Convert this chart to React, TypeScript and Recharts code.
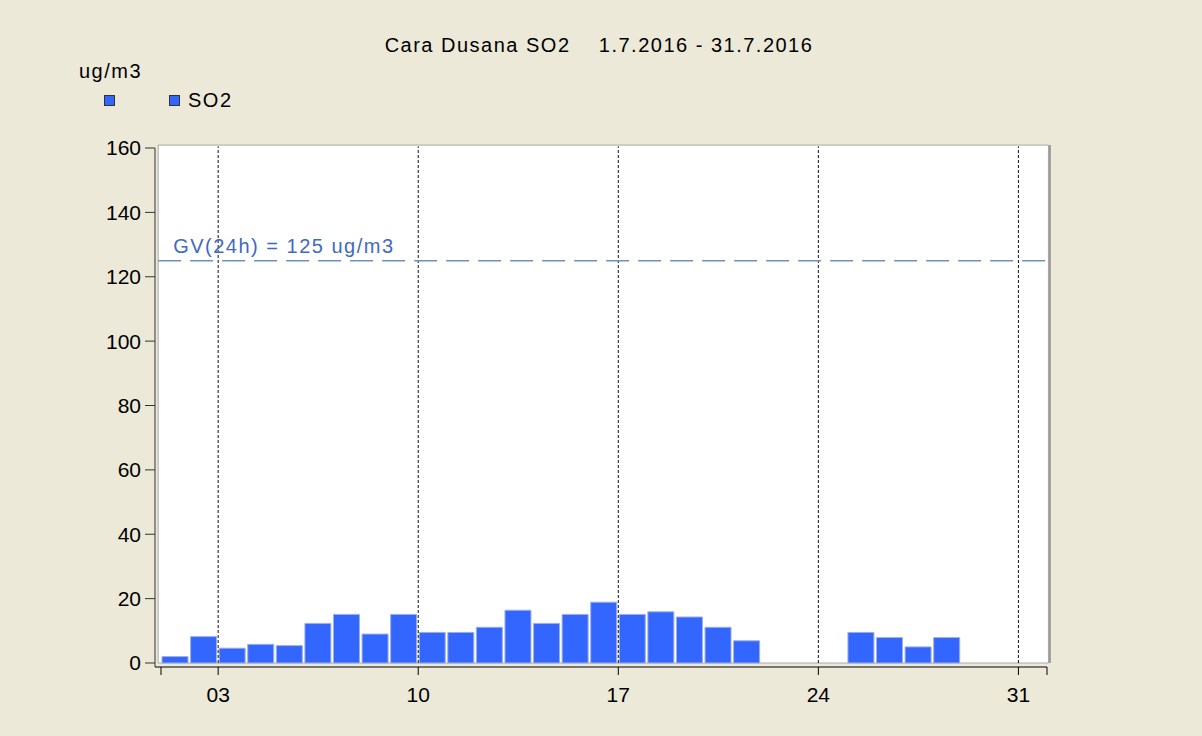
import React from 'react'
import {
    ComposedChart,
    Bar,
    XAxis,
    YAxis,
    ReferenceLine,
    ReferenceArea,
    Legend
} from 'recharts'

// days of July 2016
const days: number[] = [
    1, 2, 3, 4, 5, 6, 7, 8, 9, 10, 11, 12, 13, 14, 15, 16,
    17, 18, 19, 20, 21, 22, 23, 24, 25, 26, 27, 28, 29, 30, 31
]

// daily SO2, ug/m3 (null = no measurement)
const so2Values: (number | null)[] = [
    2.0, 8.2, 4.6, 5.8, 5.4, 12.3, 15.1, 9.0, 15.1, 9.5, 9.5, 11.1, 16.4, 12.3, 15.1, 18.9,
    15.1, 15.9, 14.3, 11.1, 6.9, null, null, null, 9.5, 7.9, 5.0, 7.9, null, null, null
]

const dayTicks: number[] = [1, 3, 10, 17, 24, 31, 32]
const labelledDays: number[] = [3, 10, 17, 24, 31]
const yTicks: number[] = [0, 20, 40, 60, 80, 100, 120, 140, 160]
const limitValue = 125
const limitLabel = 'GV(24h) = 125 ug/m3'
const title = 'Cara Dusana SO2    1.7.2016 - 31.7.2016'
const unitLabel = 'ug/m3'
const seriesName = 'SO2'

const FONT = '"Liberation Sans", Arial, sans-serif'
const BG = '#ECE9D8'
const BAR = '#3366FF'

const data = days.map((d, i) => ({ day: d, so2: so2Values[i] }))

const Square = () => (
    <span style={{
        display: 'inline-block',
        width: 9,
        height: 9,
        background: BAR,
        border: '1px solid #333'
    }} />
)

const LegendContent = (props: any) => (
    <div style={{ display: 'flex', alignItems: 'center', fontFamily: FONT, fontSize: 20, letterSpacing: 1.5, color: '#000' }}>
        <Square />
        {(props.payload || []).map((p: any) => (
            <span key={p.value} style={{ display: 'flex', alignItems: 'center', marginLeft: 54 }}>
                <Square />
                <span style={{ marginLeft: 8 }}>{p.value}</span>
            </span>
        ))}
    </div>
)

const LimitLabel = (props: any) => {
    const { viewBox } = props
    return (
        <text x={viewBox.x + 15} y={viewBox.y - 8} fill="#3F69C4" fontSize={20}
            letterSpacing={1.5} fontFamily={FONT}>
            {limitLabel}
        </text>
    )
}

const App = () => {
    return (
        <div style={{ position: 'absolute', left: 0, top: 0, width: 1202, height: 736, background: BG }}>
            <ComposedChart
                width={1202}
                height={736}
                data={data}
                margin={{ top: 148, right: 155, bottom: 0, left: 0 }}
                style={{ fontFamily: FONT }}
            >
                <text x={599} y={52} textAnchor="middle" fontSize={20} letterSpacing={1.5}
                    fontFamily={FONT} fill="#000" style={{ whiteSpace: 'pre' }}>
                    {title}
                </text>
                <text x={79} y={78} fontSize={20} letterSpacing={1.5} fontFamily={FONT} fill="#000">
                    {unitLabel}
                </text>

                <XAxis
                    xAxisId="num"
                    dataKey="day"
                    type="number"
                    domain={[1, 32]}
                    allowDataOverflow
                    ticks={dayTicks}
                    interval={0}
                    height={69}
                    padding={{ left: 6, right: 0 }}
                    tickSize={8}
                    tickMargin={12}
                    tickFormatter={(v: number) => labelledDays.includes(v) ? String(v).padStart(2, '0') : ''}
                    tick={{ fill: '#000', fontSize: 21, fontFamily: FONT }}
                    axisLine={{ stroke: '#000' }}
                    tickLine={{ stroke: '#000' }}
                />
                <XAxis xAxisId="cat" dataKey="day" hide height={0} padding={{ left: 6, right: 0 }} />
                <YAxis
                    domain={[0, 160]}
                    ticks={yTicks}
                    width={155}
                    padding={{ top: 0, bottom: 4 }}
                    tickSize={10}
                    tickMargin={4}
                    tick={{ fill: '#000', fontSize: 21, fontFamily: FONT }}
                    axisLine={{ stroke: '#333' }}
                    tickLine={{ stroke: '#333' }}
                />

                <ReferenceArea xAxisId="num" x1={0.9} x2={32.05} y1={0} y2={160.9}
                    fill="#fff" fillOpacity={1} stroke="#a8a8a8" ifOverflow="visible" />
                <ReferenceLine xAxisId="num" ifOverflow="visible" stroke="#9a9a9a" strokeWidth={2}
                    segment={[{ x: 32.1, y: 0 }, { x: 32.1, y: 160.9 }]} />

                {labelledDays.map(d => (
                    <ReferenceLine key={d} xAxisId="num" ifOverflow="visible"
                        segment={[{ x: d, y: 0 }, { x: d, y: 160.5 }]}
                        stroke="#111" strokeDasharray="3 2" />
                ))}

                <Bar xAxisId="cat" dataKey="so2" name={seriesName} fill={BAR} stroke="#9db0e0"
                    strokeWidth={1} barSize={26} isAnimationActive={false} />

                <ReferenceLine xAxisId="num" ifOverflow="visible"
                    segment={[{ x: 0.9, y: limitValue }, { x: 32.05, y: limitValue }]}
                    stroke="#7090C0" strokeWidth={1.5} strokeDasharray="23 9"
                    label={<LimitLabel />} />

                <Legend
                    layout="horizontal"
                    verticalAlign="middle"
                    align="center"
                    content={<LegendContent />}
                    wrapperStyle={{ position: 'absolute', top: 89, left: 104, width: 'auto', height: 'auto' }}
                />
            </ComposedChart>
        </div>
    )
}

export default App
